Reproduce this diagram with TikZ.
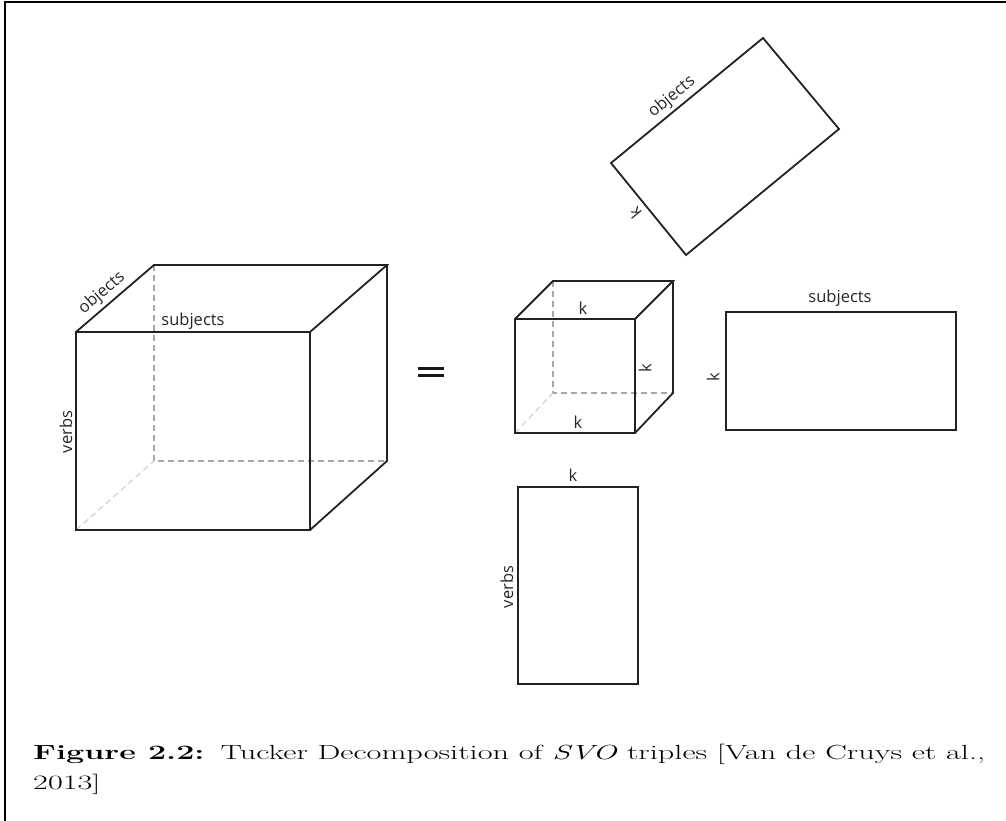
\documentclass[tikz,border=0pt]{standalone}
\usepackage{fontspec}
\usepackage{graphicx}
\setmainfont{Latin Modern Roman}
\newfontfamily\labfont{Open Sans}
\definecolor{edge}{HTML}{222222}
\definecolor{hid}{HTML}{A8A8A8}
\definecolor{hidlight}{HTML}{C8C8C8}
\newsavebox\capboxone
\tikzset{
  solidedge/.style={draw=edge, line width=1.8pt, line join=miter},
  hiddenedge/.style={draw=hid, line width=1.8pt, dash pattern=on 6pt off 4pt},
  hiddenthin/.style={draw=hidlight, line width=1pt, dash pattern=on 6pt off 4pt},
  lbl/.style={font=\labfont\fontsize{16.5}{19}\selectfont, text=black!85, inner sep=0pt},
  framebar/.style={draw=black, line width=2pt},
  captext/.style={inner sep=0pt, anchor=base west},
}
\begin{document}
\sbox\capboxone{\fontsize{20}{30}\selectfont\textbf{Figure 2.2:}\enspace Tucker Decomposition of \textit{SVO} triples [Van de Cruys et al.,}
\pgfmathsetmacro\capxfac{952/\wd\capboxone}
\pgfmathsetmacro\capyfac{15.3/\ht\capboxone}
\begin{tikzpicture}[x=1pt,y=-1pt]
\useasboundingbox (0,0) rectangle (1006,821);
% frame
\coordinate (fTL) at (5,2);
\coordinate (fTR) at (1006,2);
\coordinate (fBL) at (5,821);
\draw[framebar] (fBL) -- (fTL) -- (fTR);

% ---------------- big cube ----------------
\coordinate (A1) at (76,332);  % front top-left
\coordinate (A2) at (310,332); % front top-right
\coordinate (A3) at (310,530); % front bottom-right
\coordinate (A4) at (76,530);  % front bottom-left
\coordinate (B1) at (154,265); % back top-left
\coordinate (B2) at (387,265); % back top-right
\coordinate (B3) at (387,461); % back bottom-right
\coordinate (B4) at (154,461); % back bottom-left
\draw[hiddenedge] (B1) -- (B4) -- (B3);
\draw[hiddenthin] (A4) -- (B4);
\draw[solidedge] (A1) -- (A2) -- (A3) -- (A4) -- cycle;
\draw[solidedge] (A1) -- (B1) -- (B2) -- (A2);
\draw[solidedge] (B2) -- (B3) -- (A3);
\node[lbl, rotate=40.7] (objA) at (102,293) {objects};
\node[lbl] (subA) at (193,321) {subjects};
\node[lbl, rotate=90] (verA) at (66,432) {verbs};

% equals sign
\coordinate (e1a) at (418,368.5);
\coordinate (e1b) at (444,368.5);
\coordinate (e2a) at (418,375.5);
\coordinate (e2b) at (444,375.5);
\draw[draw=black!90, line width=3pt] (e1a) -- (e1b);
\draw[draw=black!90, line width=3pt] (e2a) -- (e2b);

% ---------------- small core cube ----------------
\coordinate (C1) at (515,319);
\coordinate (C2) at (635,319);
\coordinate (C3) at (635,433);
\coordinate (C4) at (515,433);
\coordinate (D1) at (553,281);
\coordinate (D2) at (673,281);
\coordinate (D3) at (673,393);
\coordinate (D4) at (553,393);
\draw[hiddenedge] (D1) -- (D4) -- (D3);
\draw[hiddenthin] (C4) -- (D4);
\draw[solidedge] (C1) -- (C2) -- (C3) -- (C4) -- cycle;
\draw[solidedge] (C1) -- (D1) -- (D2) -- (C2);
\draw[solidedge] (D2) -- (D3) -- (C3);
\node[lbl] (kC1) at (583,308) {k};
\node[lbl, rotate=90] (kC2) at (645,368) {k};
\node[lbl] (kC3) at (578,422) {k};

% ---------------- objects factor (rotated) ----------------
\coordinate (O1) at (611,163);
\coordinate (O2) at (763,38);
\coordinate (O3) at (839,129);
\coordinate (O4) at (686,255);
\draw[solidedge] (O1) -- (O2) -- (O3) -- (O4) -- cycle;
\node[lbl, rotate=39.4] (objO) at (672,97) {objects};
\node[lbl, rotate=129.4] (kO) at (635,213) {k};

% ---------------- subjects factor ----------------
\coordinate (S1) at (726,312);
\coordinate (S3) at (956,430);
\draw[solidedge] (S1) rectangle (S3);
\node[lbl] (subS) at (840,298) {subjects};
\node[lbl, rotate=90] (kS) at (713,377) {k};

% ---------------- verbs factor ----------------
\coordinate (V1) at (518,487);
\coordinate (V3) at (638,684);
\draw[solidedge] (V1) rectangle (V3);
\node[lbl] (kV) at (573,475) {k};
\node[lbl, rotate=90] (verV) at (507,587) {verbs};

% ---------------- caption ----------------
\node[captext] (capA) at (33,759)
  {\scalebox{\capxfac}[\capyfac]{\usebox\capboxone}};
\node[captext] (capB) at (33,789)
  {\scalebox{\capxfac}[\capyfac]{\fontsize{20}{30}\selectfont 2013]}};
\end{tikzpicture}
\end{document}
